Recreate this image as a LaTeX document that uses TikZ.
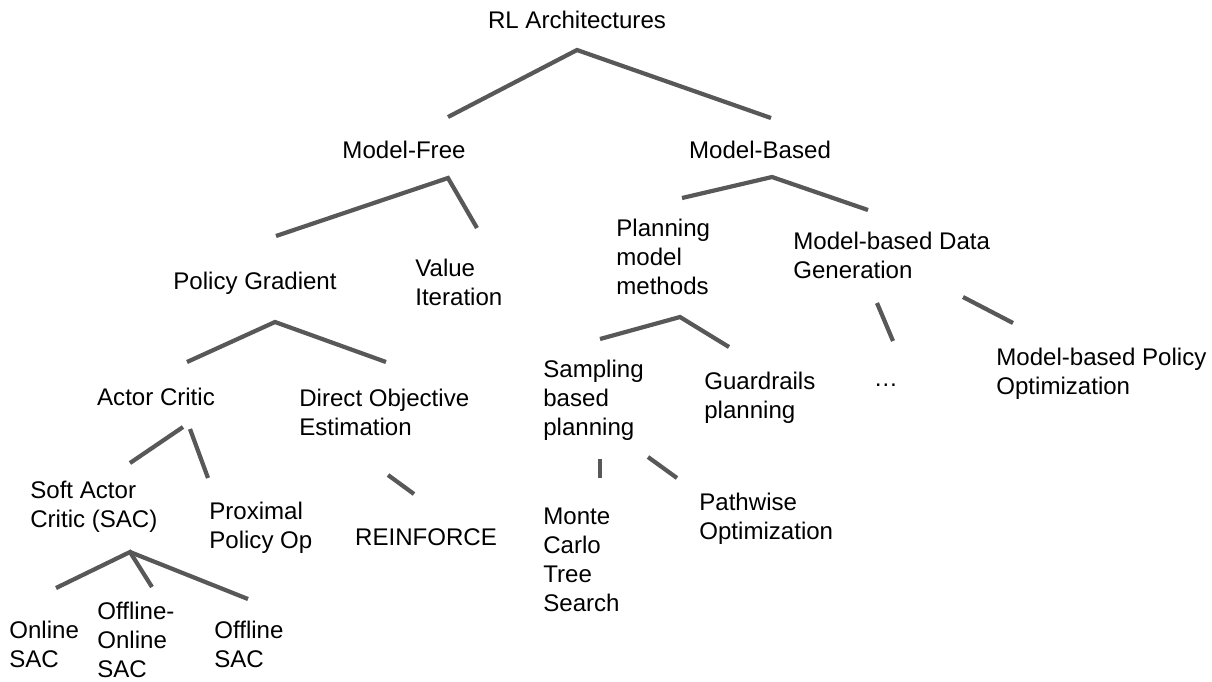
\documentclass[tikz,border=0pt]{standalone}
\usepackage{fontspec}
\setmainfont{Liberation Sans}
\usepackage{tikz}

\tikzset{
  lbl/.style={inner sep=0pt, align=left, font=\fontsize{13.7}{16.6}\selectfont},
  branch/.style={draw={rgb,255:red,88;green,88;blue,88}, line width=2.4pt}
}

\begin{document}
\begin{tikzpicture}[x=0.02cm,y=-0.02cm]
\useasboundingbox (0,0) rectangle (1212,681);
% labels
  \node[lbl] (root) at (577,20) {RL Architectures};
  \node[lbl] (mfree) at (404,150) {Model-Free};
  \node[lbl] (mbased) at (760,150) {Model-Based};
  \node[lbl] (pgrad) at (255,283) {Policy Gradient};
  \node[lbl,anchor=west] (valit) at (415,282) {Value\\Iteration};
  \node[lbl,anchor=west] (plan) at (616,257) {Planning\\model\\methods};
  \node[lbl,anchor=west] (mbdata) at (793,255) {Model-based Data\\Generation};
  \node[lbl] (actcrit) at (156,397) {Actor Critic};
  \node[lbl,anchor=west] (directobj) at (299,412) {Direct Objective\\Estimation};
  \node[lbl,anchor=west] (sampling) at (543,400) {Sampling\\based\\planning};
  \node[lbl,anchor=west] (guard) at (704,398) {Guardrails\\planning};
  \node[lbl] (dots) at (886,385) {\dots};
  \node[lbl,anchor=west] (mbpo) at (996,374) {Model-based Policy\\Optimization};
  \node[lbl,anchor=west] (sac) at (30,507) {Soft Actor\\Critic (SAC)};
  \node[lbl,anchor=west] (ppo) at (209,528) {Proximal\\Policy Op};
  \node[lbl] (reinforce) at (426,537) {REINFORCE};
  \node[lbl,anchor=west] (mcts) at (543,560) {Monte\\Carlo\\Tree\\Search};
  \node[lbl,anchor=west] (pathwise) at (699,519) {Pathwise\\Optimization};
  \node[lbl,anchor=west] (onsac) at (9,644) {Online\\SAC};
  \node[lbl,anchor=west] (offonsac) at (97,640) {Offline-\\Online\\SAC};
  \node[lbl,anchor=west] (offsac) at (214,644) {Offline\\SAC};
% branch points
  \coordinate (root-j) at (577,50);
  \coordinate (root-l) at (448,117);
  \coordinate (root-r) at (771,118);
  \coordinate (mfree-j) at (448,178);
  \coordinate (mfree-l) at (276,236);
  \coordinate (mfree-r) at (477,228);
  \coordinate (mbased-j) at (772,177);
  \coordinate (mbased-l) at (682,198);
  \coordinate (mbased-r) at (868,210);
  \coordinate (pgrad-j) at (275,322);
  \coordinate (pgrad-l) at (187,362);
  \coordinate (pgrad-r) at (386,362);
  \coordinate (plan-j) at (680,317);
  \coordinate (plan-l) at (600,339);
  \coordinate (plan-r) at (729,347);
  \coordinate (sac-j) at (130,552);
  \coordinate (sac-l) at (56,588);
  \coordinate (sac-m) at (152,587);
  \coordinate (sac-r) at (248,599);
% connectors
  \draw[branch] (root-l) -- (root-j) -- (root-r);
  \draw[branch] (mfree-l) -- (mfree-j) -- (mfree-r);
  \draw[branch] (mbased-l) -- (mbased-j) -- (mbased-r);
  \draw[branch] (pgrad-l) -- (pgrad-j) -- (pgrad-r);
  \draw[branch] (plan-l) -- (plan-j) -- (plan-r);
  \draw[branch] (sac-l) -- (sac-j) -- (sac-m);
  \draw[branch] (sac-j) -- (sac-r);
  \coordinate (mbdata-a) at (877,303);
  \coordinate (mbdata-b) at (893,341);
  \coordinate (mbdata-c) at (963,297);
  \coordinate (mbdata-d) at (1013,323);
  \draw[branch] (mbdata-a) -- (mbdata-b);
  \draw[branch] (mbdata-c) -- (mbdata-d);
  \coordinate (actcrit-a) at (130,463);
  \coordinate (actcrit-b) at (183,427);
  \coordinate (actcrit-c) at (190,429);
  \coordinate (actcrit-d) at (208,478);
  \draw[branch] (actcrit-a) -- (actcrit-b);
  \draw[branch] (actcrit-c) -- (actcrit-d);
  \coordinate (directobj-a) at (388,475);
  \coordinate (directobj-b) at (414,494);
  \draw[branch] (directobj-a) -- (directobj-b);
  \coordinate (sampling-a) at (600,459);
  \coordinate (sampling-b) at (600,478);
  \coordinate (sampling-c) at (648,457);
  \coordinate (sampling-d) at (677,478);
  \draw[branch] (sampling-a) -- (sampling-b);
  \draw[branch] (sampling-c) -- (sampling-d);
\end{tikzpicture}
\end{document}
